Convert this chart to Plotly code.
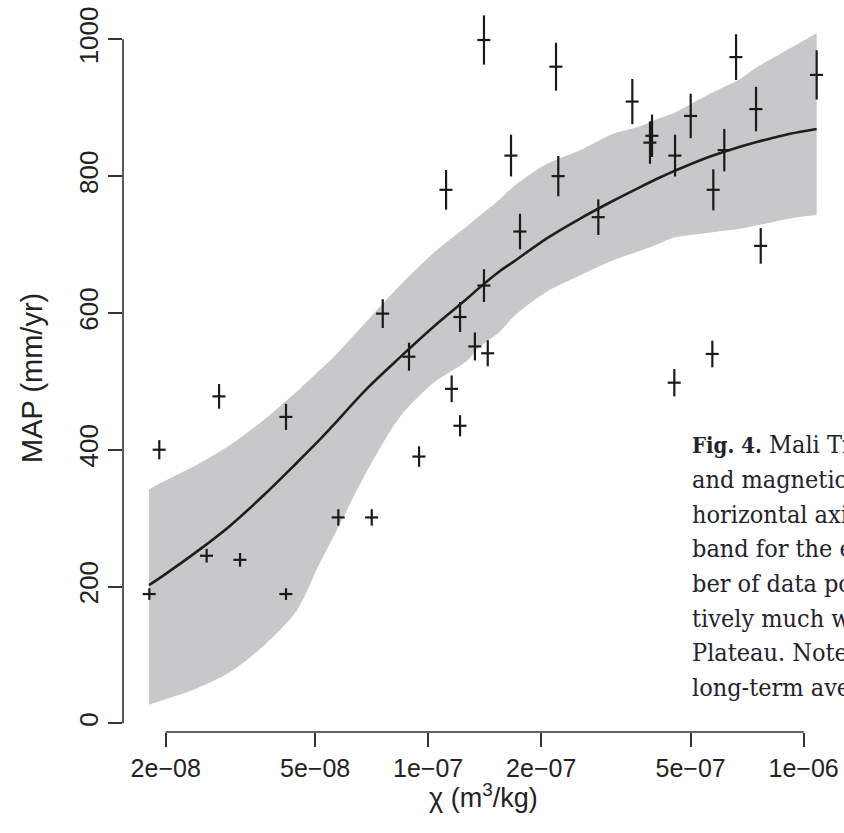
import math
import plotly.graph_objects as go

# Observed samples: magnetic susceptibility chi (m^3/kg) vs mean annual precipitation (mm/yr)
chi = [1.809e-8, 1.923e-8, 2.571e-8, 2.774e-8, 3.155e-8, 4.182e-8, 4.182e-8,
       5.765e-8, 7.075e-8, 7.569e-8, 8.891e-8, 9.456e-8, 1.116e-7, 1.155e-7,
       1.216e-7, 1.216e-7, 1.332e-7, 1.408e-7, 1.408e-7, 1.441e-7, 1.662e-7,
       1.756e-7, 2.190e-7, 2.221e-7, 2.839e-7, 3.497e-7, 3.946e-7, 3.897e-7,
       4.524e-7, 4.544e-7, 5.002e-7, 5.712e-7, 5.746e-7, 6.146e-7, 6.606e-7,
       7.466e-7, 7.685e-7, 1.083e-6]
map_mm = [189, 400, 245, 478, 239, 189, 448,
          301, 301, 599, 536, 390, 780, 489,
          594, 435, 551, 999, 640, 541, 830,
          719, 960, 800, 740, 909, 859, 849,
          498, 830, 888, 540, 780, 838, 974,
          898, 698, 948]
map_err = [8.5, 14, 10, 18, 10, 8.5, 19,
           12, 12, 21, 20.5, 15, 29, 19.5,
           22, 15.5, 20.5, 36, 24, 19, 30.5,
           26, 35, 29.5, 26, 33, 31, 31,
           20, 30.5, 32.5, 19.5, 30, 31, 33.5,
           32.5, 26, 36]
chi_err_pct = 4

# Fitted curve with its confidence band
curve_chi = [1.805e-8, 1.97e-8, 2.42e-8, 2.97e-8, 3.64e-8, 4.47e-8, 5.15e-8,
             5.59e-8, 6.86e-8, 8.41e-8, 1.03e-7, 1.27e-7, 1.37e-7, 1.55e-7,
             1.69e-7, 2.07e-7, 2.54e-7, 3.11e-7, 3.67e-7, 4.14e-7, 4.50e-7,
             5.52e-7, 6.77e-7, 7.50e-7, 8.30e-7, 9.20e-7, 1.083e-6]
curve_fit = [202, 216, 251, 289, 333, 381, 415,
             436, 489, 535, 579, 621, 637, 661,
             675, 709, 738, 764, 784, 798, 807,
             827, 843, 850, 856, 862, 869]
curve_hi = [342, 353, 378, 407, 443, 485, 517,
            535, 588, 640, 687, 727, 742, 766,
            785, 818, 838, 862, 873, 885, 892,
            918, 942, 959, 973, 987, 1009]
curve_lo = [27, 34, 51, 75, 113, 165, 235,
            272, 368, 448, 497, 530, 550, 572,
            595, 631, 655, 677, 691, 702, 710,
            717, 723, 728, 733, 738, 743]

x_ticks = [2e-8, 5e-8, 1e-7, 2e-7, 5e-7, 1e-6]
x_ticktext = ["2e\u221208", "5e\u221208", "1e\u221207", "2e\u221207", "5e\u221207", "1e\u221206"]
y_ticks = [0, 200, 400, 600, 800, 1000]

caption_lines = [
    "<b><span style='font-size:22px'>Fig. 4.</span></b> Mali Transect",
    "and magnetic",
    "horizontal axis",
    "band for the estimated",
    "ber of data points",
    "tively much wetter",
    "Plateau. Note that",
    "long-term average",
]

W, H = 844, 833
ML, MB = 123, 101
PW, PH = W - ML, H - MB
X_RANGE = [-7.8127, -5.8926]
Y_RANGE = [-12.7, 1057.5]

AX_COLOR = "#333333"
TXT_COLOR = "#222222"
BAND = "rgb(200,200,203)"
SANS = "Liberation Sans, Arial, sans-serif"


def px_x(p):
    return (p - ML) / PW


def px_y(p):
    return 1 - p / PH


def logfrac(v):
    return (math.log10(v) - X_RANGE[0]) / (X_RANGE[1] - X_RANGE[0])


fig = go.Figure()

# confidence band: lower edge, then upper edge filled down to it
fig.add_trace(go.Scatter(
    x=curve_chi, y=curve_lo, mode="lines",
    line=dict(width=0, color=BAND, shape="spline", smoothing=0.8),
    hoverinfo="skip", showlegend=False,
))
fig.add_trace(go.Scatter(
    x=curve_chi, y=curve_hi, mode="lines", fill="tonexty", fillcolor=BAND,
    line=dict(width=0, color=BAND, shape="spline", smoothing=0.8),
    hoverinfo="skip", showlegend=False,
))
fig.add_trace(go.Scatter(
    x=curve_chi, y=curve_fit, mode="lines",
    line=dict(color="#1e1e1e", width=2.6, shape="spline", smoothing=1.0),
    showlegend=False,
))
fig.add_trace(go.Scatter(
    x=chi, y=map_mm, mode="markers",
    marker=dict(size=1, color="rgba(0,0,0,0)"),
    error_y=dict(type="data", array=map_err, width=0, thickness=2.2, color="#1a1a1a"),
    error_x=dict(type="percent", value=chi_err_pct, width=0, thickness=2.2, color="#1a1a1a"),
    showlegend=False,
))

# R-style axis lines spanning only from first to last tick
fig.add_shape(type="line", xref="paper", yref="paper",
              x0=logfrac(x_ticks[0]), x1=logfrac(x_ticks[-1]), y0=0, y1=0,
              line=dict(color=AX_COLOR, width=1.6))
fig.add_shape(type="line", xref="paper", yref="y",
              x0=0, x1=0, y0=y_ticks[0], y1=y_ticks[-1],
              line=dict(color=AX_COLOR, width=1.6))

fig.add_annotation(text="MAP (mm/yr)", textangle=-90, xref="paper", yref="paper",
                   x=px_x(14), y=px_y(378), showarrow=False,
                   font=dict(family=SANS, size=29, color=TXT_COLOR))
fig.add_annotation(text="\u03c7 (m<sup>3</sup>/kg)", xref="paper", yref="paper",
                   x=px_x(483), y=px_y(815), showarrow=False,
                   font=dict(family=SANS, size=27, color=TXT_COLOR))

for i, line in enumerate(caption_lines):
    baseline = 453 + 34.6 * i
    fig.add_annotation(text=line, xref="paper", yref="paper",
                       x=px_x(690), y=px_y(baseline - 8), xanchor="left", yanchor="middle",
                       showarrow=False, align="left",
                       font=dict(family="DejaVu Serif Condensed, DejaVu Serif, serif",
                                 size=25, color="#23232e"))

fig.update_xaxes(type="log", range=X_RANGE, showgrid=False, zeroline=False, showline=False,
                 ticks="outside", ticklen=14, tickwidth=1.6, tickcolor=AX_COLOR,
                 tickvals=x_ticks, ticktext=x_ticktext,
                 tickfont=dict(family=SANS, size=25, color=TXT_COLOR))
fig.update_yaxes(range=Y_RANGE, showgrid=False, zeroline=False, showline=False,
                 ticks="outside", ticklen=14, tickwidth=1.6, tickcolor=AX_COLOR,
                 tickvals=y_ticks, ticktext=[str(v) for v in y_ticks], tickangle=-90,
                 tickfont=dict(family=SANS, size=26, color=TXT_COLOR))

fig.update_layout(width=W, height=H, margin=dict(l=ML, r=0, t=0, b=MB),
                  plot_bgcolor="white", paper_bgcolor="white", showlegend=False)

fig.write_html("out.html")
